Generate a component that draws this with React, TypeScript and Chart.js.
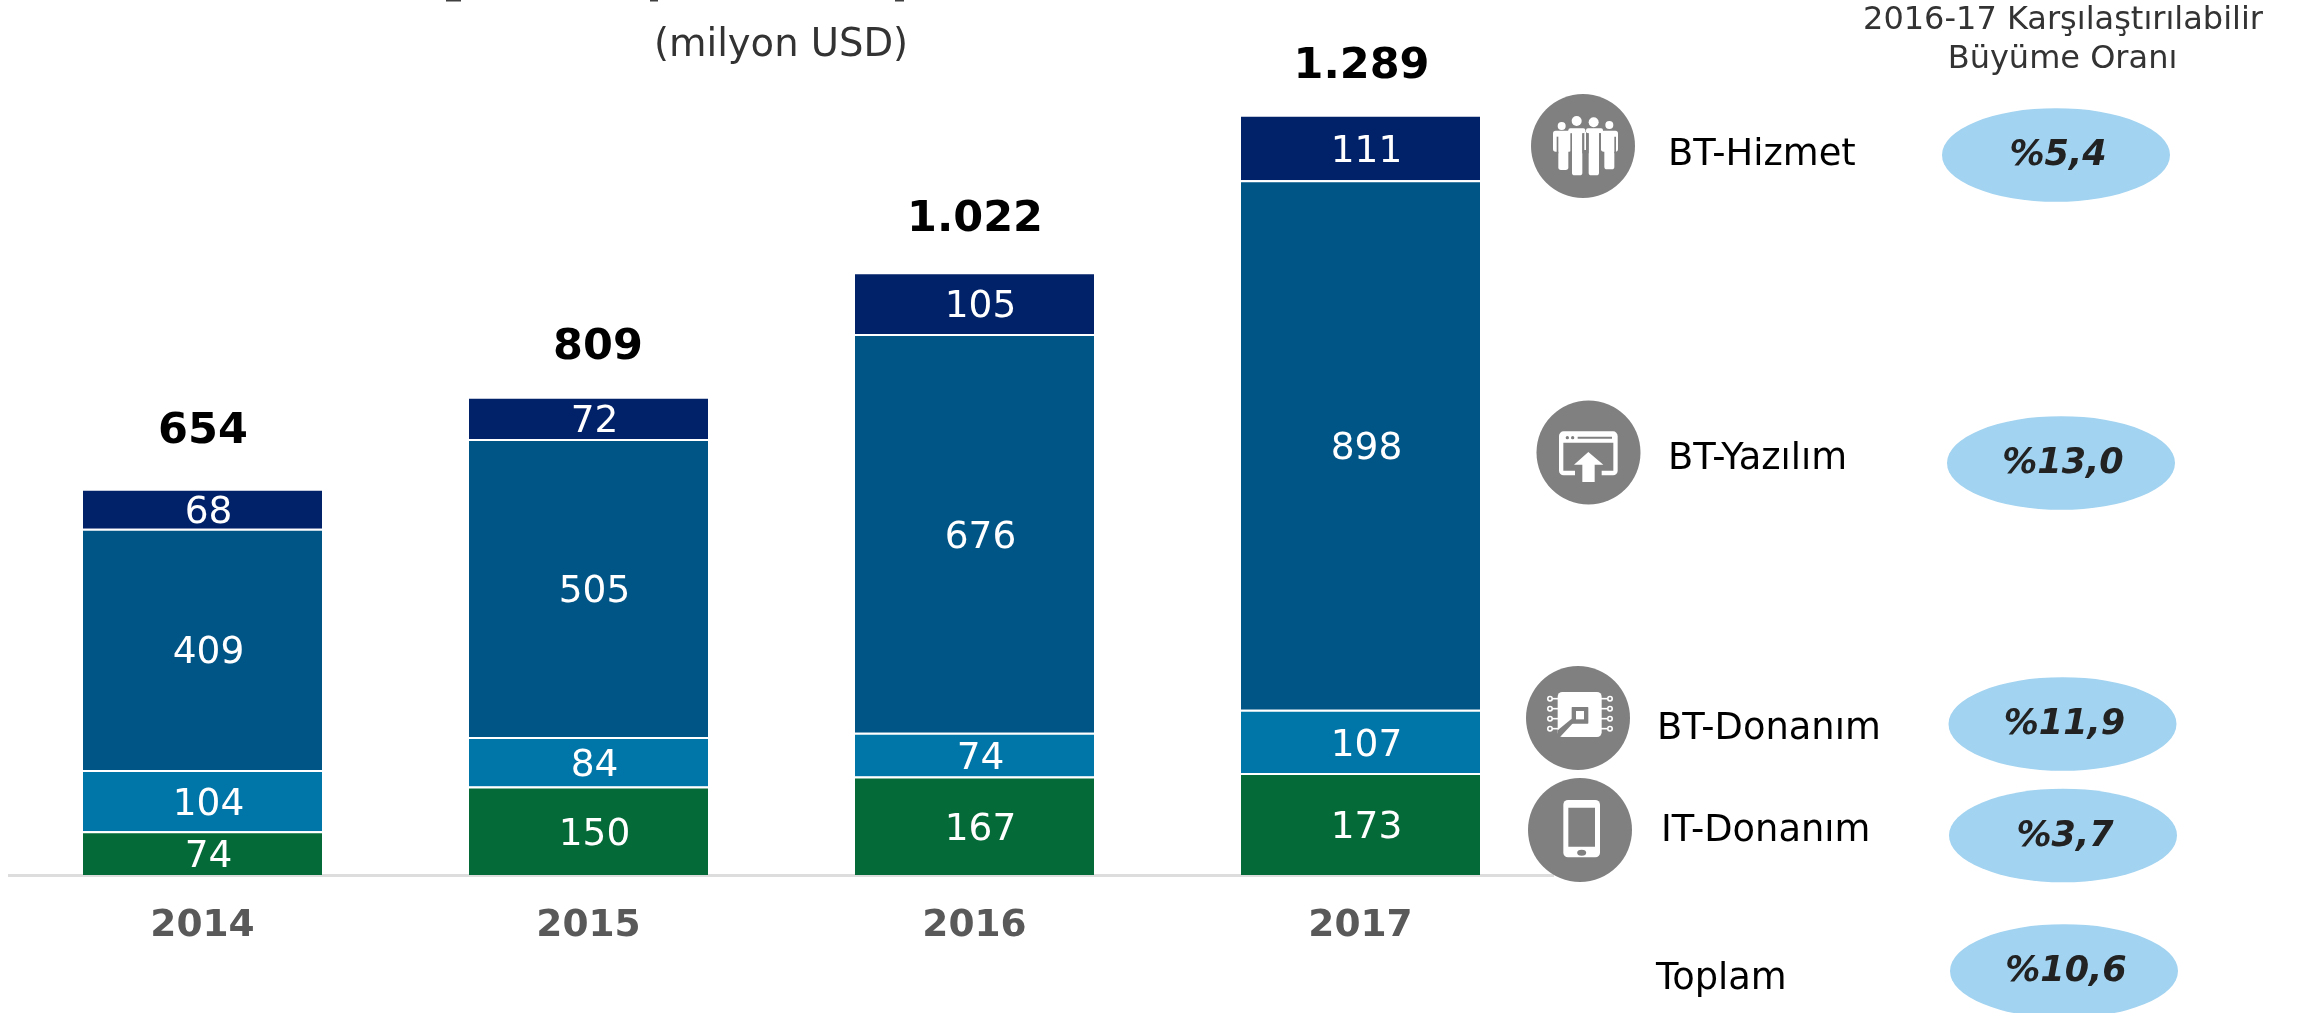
import React, { useEffect, useRef } from "react";
import { Chart, registerables } from "chart.js";

Chart.register(...registerables);

const years = ["2014", "2015", "2016", "2017"];
const itDonanim = [74, 150, 167, 173];
const btDonanim = [104, 84, 74, 107];
const btYazilim = [409, 505, 676, 898];
const btHizmet = [68, 72, 105, 111];
const totalLabels = ["654", "809", "1.022", "1.289"];
const totals = [654, 809, 1022, 1289];

const seriesNames = ["IT-Donanım", "BT-Donanım", "BT-Yazılım", "BT-Hizmet"];
const seriesColors = ["#046A38", "#0076A8", "#005587", "#012169"];

const growthLabels = ["%5,4", "%13,0", "%11,9", "%3,7", "%10,6"];
const rowLabels = ["BT-Hizmet", "BT-Yazılım", "BT-Donanım", "IT-Donanım", "Toplam"];

const FONT = '"DejaVu Sans", Verdana, sans-serif';

// layout of the annotation side panel
const rowText = [[1668, 152], [1668, 456.5], [1657, 726], [1661, 828], [1656, 976]];
const ellipses = [[2056, 155], [2061, 463], [2062.5, 724], [2063, 835.5], [2064, 971]];
const totalOffset = [[0.5, 61.3], [9.5, 53.9], [0.5, 56.2], [1, 51.8]];

function text(ctx: CanvasRenderingContext2D, s: string, x: number, y: number, size: number, style: string, color: string, align: CanvasTextAlign = "center") {
  ctx.font = `${style} ${size}px ${FONT}`;
  ctx.fillStyle = color;
  ctx.textAlign = align;
  ctx.textBaseline = "middle";
  ctx.fillText(s, x, y + size * 0.09);
}

function disc(ctx: CanvasRenderingContext2D, cx: number, cy: number) {
  ctx.fillStyle = "#808080";
  ctx.beginPath();
  ctx.ellipse(cx, cy, 52, 52, 0, 0, Math.PI * 2);
  ctx.fill();
}

function rr(ctx: CanvasRenderingContext2D, x0: number, y0: number, x1: number, y1: number, r: number, fill: string) {
  ctx.fillStyle = fill;
  ctx.beginPath();
  ctx.roundRect(x0 / 3, y0 / 3, (x1 - x0) / 3, (y1 - y0) / 3, r / 3);
  ctx.fill();
}

function circ(ctx: CanvasRenderingContext2D, x: number, y: number, r: number, fill: string) {
  ctx.fillStyle = fill;
  ctx.beginPath();
  ctx.arc(x / 3, y / 3, r / 3, 0, Math.PI * 2);
  ctx.fill();
}

function peopleIcon(ctx: CanvasRenderingContext2D) {
  ctx.save();
  ctx.translate(1525, 90);
  const W = "#ffffff";
  const G = "#808080";
  circ(ctx, 110, 108, 12, W);
  circ(ctx, 155, 93, 15, W);
  circ(ctx, 206, 97, 15, W);
  circ(ctx, 253, 105, 12, W);
  // outer people
  rr(ctx, 84, 122, 140, 185, 8, W);
  rr(ctx, 100, 130, 130, 240, 8, W);
  rr(ctx, 228, 122, 279, 185, 8, W);
  rr(ctx, 238, 130, 268, 238, 8, W);
  rr(ctx, 95, 140, 100, 190, 0, G);
  rr(ctx, 268, 140, 273, 190, 0, G);
  // inner people
  rr(ctx, 130, 115, 181, 130, 6, W);
  rr(ctx, 130, 125, 136, 180, 2, W);
  rr(ctx, 141, 120, 172, 256, 8, W);
  rr(ctx, 183, 115, 234, 130, 6, W);
  rr(ctx, 191, 120, 222, 256, 8, W);
  rr(ctx, 136, 130, 141, 190, 0, G);
  rr(ctx, 172, 130, 178, 190, 0, G);
  rr(ctx, 178, 125, 183, 180, 0, W);
  rr(ctx, 186, 130, 191, 190, 0, G);
  rr(ctx, 222, 130, 228, 190, 0, G);
  rr(ctx, 228, 130, 233, 180, 1, W);
  ctx.restore();
}

function windowIcon(ctx: CanvasRenderingContext2D) {
  ctx.save();
  ctx.translate(1530, 392);
  const W = "#ffffff";
  const G = "#808080";
  rr(ctx, 87, 118, 263, 250, 14, W);
  rr(ctx, 100, 152, 250, 236, 0, G);
  rr(ctx, 135, 230, 215, 252, 0, G);
  circ(ctx, 112, 137, 5, G);
  circ(ctx, 128, 137, 5, G);
  rr(ctx, 143, 134, 246, 140, 0, G);
  ctx.fillStyle = W;
  ctx.beginPath();
  ctx.moveTo(175 / 3, 180 / 3);
  ctx.lineTo(220 / 3, 218 / 3);
  ctx.lineTo(194 / 3, 218 / 3);
  ctx.lineTo(194 / 3, 270 / 3);
  ctx.lineTo(157 / 3, 270 / 3);
  ctx.lineTo(157 / 3, 218 / 3);
  ctx.lineTo(132 / 3, 218 / 3);
  ctx.closePath();
  ctx.fill();
  ctx.restore();
}

function chipIcon(ctx: CanvasRenderingContext2D) {
  ctx.save();
  ctx.translate(1520, 662);
  const W = "#ffffff";
  const G = "#808080";
  rr(ctx, 113, 90, 245, 225, 14, W);
  rr(ctx, 155, 135, 205, 185, 2, G);
  rr(ctx, 168, 147, 192, 172, 0, W);
  ctx.fillStyle = G;
  ctx.beginPath();
  ctx.moveTo(113 / 3, 205 / 3);
  ctx.lineTo(113 / 3, 225 / 3);
  ctx.lineTo(120 / 3, 225 / 3);
  ctx.lineTo(160 / 3, 182 / 3);
  ctx.lineTo(155 / 3, 170 / 3);
  ctx.closePath();
  ctx.fill();
  ctx.strokeStyle = W;
  ctx.lineWidth = 1.6;
  for (const py of [110, 140, 170, 200]) {
    for (const [cx, x2] of [[90, 115], [270, 243]]) {
      ctx.beginPath();
      ctx.arc(cx / 3, py / 3, 2.2, 0, Math.PI * 2);
      ctx.stroke();
      ctx.beginPath();
      ctx.moveTo((cx + (cx < 200 ? 7 : -7)) / 3, py / 3);
      ctx.lineTo(x2 / 3, py / 3);
      ctx.stroke();
    }
  }
  ctx.restore();
}

function phoneIcon(ctx: CanvasRenderingContext2D) {
  ctx.save();
  ctx.translate(1520, 775);
  const W = "#ffffff";
  const G = "#808080";
  rr(ctx, 130, 75, 240, 247, 14, W);
  rr(ctx, 145, 98, 225, 215, 0, G);
  ctx.fillStyle = G;
  ctx.beginPath();
  ctx.ellipse(185 / 3, 233 / 3, 4.5, 3, 0, 0, Math.PI * 2);
  ctx.fill();
  ctx.restore();
}

const annotations = {
  id: "annotations",
  afterDatasetsDraw(chart: any) {
    const ctx: CanvasRenderingContext2D = chart.ctx;
    ctx.save();

    // value labels inside the segments
    chart.data.datasets.forEach((ds: any, di: number) => {
      const meta = chart.getDatasetMeta(di);
      meta.data.forEach((bar: any, i: number) => {
        const cy = (bar.y + bar.base) / 2;
        text(ctx, String(ds.data[i]), bar.x + 6, cy + 1, 37.5, "", "#ffffff");
      });
    });

    // totals above the stacks
    const y = chart.scales.y;
    const x = chart.scales.x;
    totals.forEach((t, i) => {
      const [dx, dy] = totalOffset[i];
      text(ctx, totalLabels[i], x.getPixelForValue(i) + dx, y.getPixelForValue(t) - dy, 43, "bold", "#000000");
    });

    // clipped remains of the title line above the picture
    ctx.fillStyle = "#404040";
    ctx.fillRect(446, 0, 15, 1.5);
    ctx.fillRect(650, 0, 8, 1.5);
    ctx.fillRect(895, 0, 9, 1.5);

    text(ctx, "(milyon USD)", 781, 43, 38.5, "", "#333333");
    text(ctx, "2016-17 Karşılaştırılabilir", 2063, 17.5, 32, "", "#333333");
    text(ctx, "Büyüme Oranı", 2062.5, 56.8, 32, "", "#333333");

    disc(ctx, 1583, 146);
    peopleIcon(ctx);
    disc(ctx, 1588.5, 452.5);
    windowIcon(ctx);
    disc(ctx, 1578, 718);
    chipIcon(ctx);
    disc(ctx, 1580, 830);
    phoneIcon(ctx);

    rowLabels.forEach((s, i) => {
      text(ctx, s, rowText[i][0], rowText[i][1], 36.8, "", "#000000", "left");
    });

    growthLabels.forEach((s, i) => {
      const [cx, cy] = ellipses[i];
      ctx.fillStyle = "#A2D3F0";
      ctx.beginPath();
      ctx.ellipse(cx, cy, 114, 46.8, 0, 0, Math.PI * 2);
      ctx.fill();
      text(ctx, s, cx + 2, cy - 2, 35, "italic bold", "#222222");
    });

    ctx.restore();
  },
};

export default function App() {
  const ref = useRef<HTMLCanvasElement | null>(null);
  useEffect(() => {
    const chart = new Chart(ref.current as HTMLCanvasElement, {
      type: "bar",
      data: {
        labels: years,
        datasets: [itDonanim, btDonanim, btYazilim, btHizmet].map((data, i) => ({
          label: seriesNames[i],
          data,
          backgroundColor: seriesColors[i],
          borderColor: "#ffffff",
          borderWidth: { top: 2, bottom: 0, left: 0, right: 0 },
          borderSkipped: false,
          categoryPercentage: 1,
          barPercentage: 239 / 386,
        })),
      },
      options: {
        animation: false,
        responsive: false,
        devicePixelRatio: 1,
        layout: { padding: { left: 9.5, right: 753.5, top: 49.2, bottom: 38 } },
        plugins: { legend: { display: false }, tooltip: { enabled: false }, title: { display: false } },
        scales: {
          x: {
            stacked: true,
            grid: { display: false, drawTicks: false },
            border: { display: true, color: "#dddddd", width: 3 },
            afterFit: (axis: any) => {
              axis.height = 100;
            },
            ticks: {
              padding: 29,
              color: "#595959",
              font: { family: FONT, size: 37.5, weight: "bold" },
              maxRotation: 0,
            },
          },
          y: { stacked: true, display: false, min: 0, max: 1400 },
        },
      },
      plugins: [annotations],
    } as any);
    return () => chart.destroy();
  }, []);
  return (
    <div style={{ position: "absolute", left: 0, top: 0, width: 2307, height: 1013, background: "#ffffff", overflow: "hidden" }}>
      <canvas ref={ref} width={2307} height={1013} style={{ display: "block" }} />
    </div>
  );
}
